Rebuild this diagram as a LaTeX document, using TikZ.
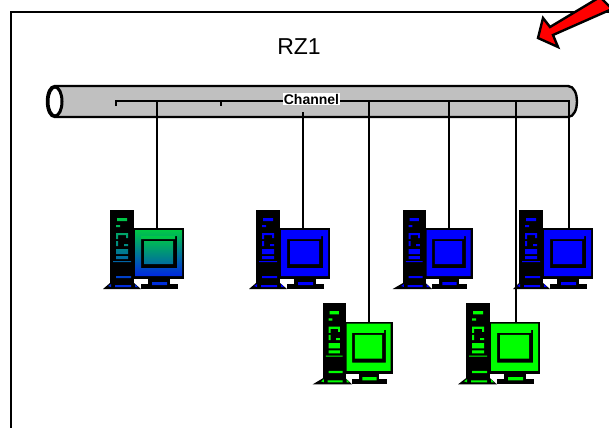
\documentclass[tikz,border=0pt]{standalone}
\usepackage{fontspec}
\setmainfont{Liberation Sans}
\definecolor{pipegray}{RGB}{192,192,192}
\definecolor{pcgreen}{RGB}{0,255,0}
\definecolor{pcblue}{RGB}{0,0,255}
\definecolor{pctop}{RGB}{0,200,70}
\definecolor{pcbottom}{RGB}{0,40,225}
\tikzset{
    wire/.style={line width=2.4pt,black},
    pics/workstation/.style 2 args={code={
        % tower and foot
        \fill[black] (0,0) rectangle (24,74);
        \fill[black] (#2,79) -- (0,73) -- (24,73) -- (31,79) -- cycle;
        % monitor and stand
        \fill[black] (23,18) rectangle (74,69);
        \fill[black] (38,69) rectangle (60,74);
        \fill[black] (31,74) rectangle (68,79);
        % coloured parts of the tower
        \path[#1] (7,8) rectangle (17,11) (6,15) rectangle (10,17)
            (6,23) rectangle (18,25) (6,25) rectangle (8,29) (16,25) rectangle (18,28)
            (6,31) rectangle (8,36) (14,34) rectangle (18,36)
            (6,39) rectangle (18,44) (6,46) rectangle (18,49)
            (3,51) rectangle (21,52) (6,66) rectangle (21,68)
            (-2,76) -- (1,74) -- (1,77) -- cycle (5,75) rectangle (21,77) (25,74) -- (28,77) -- (25,77) -- cycle;
        % coloured bezel, title bar and screen
        \path[#1,even odd rule] (25,20) rectangle (72,66) (31,26) rectangle (67,58);
        \path[#1] (31,26) rectangle (65,29) (34,31) rectangle (63,54) (42,72) rectangle (57,75);
        % where the cable arrives
        \coordinate (-top) at (47,18);
    }},
}
\begin{document}
\begin{tikzpicture}[x=1pt,y=-1pt]
    \useasboundingbox (0,0) rectangle (609,428);

    % Frame of the room
    \draw[line width=2.4pt] (609,12) -- (11,12) -- (11,428);

    % Label of the room
    \node (rzlabel) at (299,47) {\fontsize{23}{23}\selectfont RZ1};

    % Red arrow
    \draw[line width=2.4pt,fill=red,miter limit=10] (538,38) -- (543,18) -- (550,27) -- (600,-3) -- (612,9) -- (553,35) -- (558,47) -- cycle;

    % Draw the pipe
    \draw[line width=2.4pt,fill=pipegray] (55,86) -- (568,86)
        .. controls (574,86) and (577,94) .. (577,101.5)
        .. controls (577,109) and (574,117) .. (568,117)
        -- (55,117) .. controls (50,117) and (47,110) .. (47,101.5)
        .. controls (47,93) and (50,86) .. (55,86) -- cycle;
    \draw[line width=3pt,fill=white] (55,101.5) ellipse (7 and 14.5);

    % Computers
    \pic (pcA) at (110,210) {workstation={top color=pctop,bottom color=pcbottom}{-7}};
    \pic (pcB) at (256,210) {workstation={fill=pcblue}{-7}};
    \pic[xscale=.94] (pcC) at (403,210) {workstation={fill=pcblue}{-11}};
    \pic (pcD) at (519,210) {workstation={fill=pcblue}{-6}};
    \pic[xscale=.94,yscale=1.03] (pcE) at (323,303) {workstation={fill=pcgreen}{-11}};
    \pic[yscale=1.03] (pcF) at (466,303) {workstation={fill=pcgreen}{-8}};

    % Bus inside the pipe
    \coordinate (busL) at (116,101);
    \coordinate (busM) at (221,101);
    \coordinate (busR) at (569,101);
    \coordinate (tickL) at (116,106);
    \coordinate (tickM) at (221,106);
    \draw[wire] (tickL) -- (busL) -- (busR) -- (busR |- pcD-top);
    \draw[wire] (busM) -- (tickM);

    % Drops to the computers
    \coordinate (dropA) at (157,101);
    \coordinate (dropB) at (303,112);
    \coordinate (dropC) at (449,101);
    \coordinate (dropE) at (369,101);
    \coordinate (dropF) at (516,101);
    \draw[wire] (dropA) -- (dropA |- pcA-top);
    \draw[wire] (dropB) -- (dropB |- pcB-top);
    \draw[wire] (dropC) -- (dropC |- pcC-top);
    \draw[wire] (dropE) -- (dropE |- pcE-top);
    \draw[wire] (dropF) -- (dropF |- pcF-top);

    % Label of the bus
    \node[fill=white,inner xsep=0pt,inner ysep=0pt,minimum height=12pt,minimum width=57pt,font=\bfseries\fontsize{14}{14}\selectfont] (channel) at (311.5,99) {Channel};
\end{tikzpicture}
\end{document}
